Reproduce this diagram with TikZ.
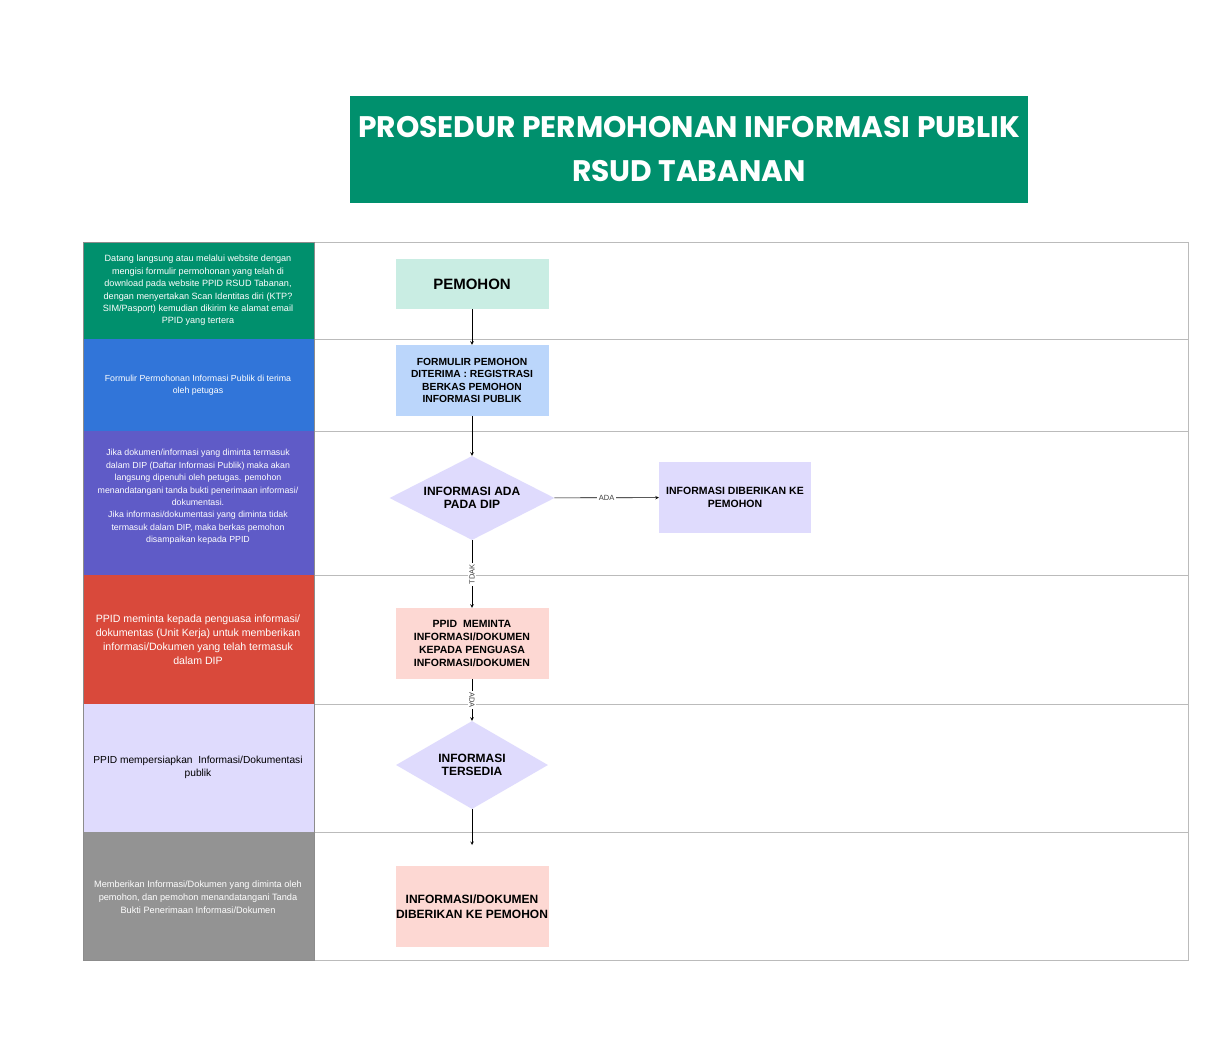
\documentclass[tikz,border=0pt]{standalone}
\usepackage{fontspec}
\setmainfont{Liberation Sans}
\newfontfamily\titlefont{Poppins}
\usetikzlibrary{shapes.geometric,arrows}
\definecolor{hijau}{HTML}{00906D}
\definecolor{biru}{HTML}{3175D9}
\definecolor{ungu}{HTML}{5F5BC7}
\definecolor{merah}{HTML}{D9493B}
\definecolor{lavender}{HTML}{DFDBFD}
\definecolor{abu}{HTML}{939393}
\definecolor{mint}{HTML}{C9EDE3}
\definecolor{birumuda}{HTML}{BBD6FB}
\definecolor{merahmuda}{HTML}{FDD8D3}
\definecolor{garis}{HTML}{BBBBBB}

\begin{document}
\begin{tikzpicture}[x=1pt,y=-1pt,
   lanetext/.style={align=center,text=white,inner sep=0pt,font=\fontsize{8.8}{12.4}\selectfont},
   stepbox/.style={rectangle,minimum width=153pt,minimum height=71pt,inner sep=0pt,align=center,font=\bfseries\fontsize{10.5}{13}\selectfont},
   decide/.style={diamond,aspect=2,inner sep=0pt,fill=lavender,align=center,font=\bfseries\fontsize{12}{13.5}\selectfont},
   arr/.style={-stealth,semithick},
   lbl/.style={fill=white,inner sep=1.5pt,text=black!75,font=\fontsize{7.5}{7.5}\selectfont}]
\useasboundingbox (0,0) rectangle (1223,1057);
\fill[white] (0,0) rectangle (1223,1057);

\node[fill=hijau,minimum width=678pt,minimum height=107pt,inner sep=0pt,align=center,text=white,
   font=\titlefont\bfseries\fontsize{29.7}{44}\selectfont] (title) at (689,149.5)
   {PROSEDUR PERMOHONAN INFORMASI PUBLIK\\RSUD TABANAN};

% lajur kiri
\fill[hijau] (83,242) rectangle (314,339);
\fill[biru] (83,339) rectangle (314,431);
\fill[ungu] (83,431) rectangle (314,575);
\fill[merah] (83,575) rectangle (314,704);
\fill[lavender] (83,704) rectangle (314,832);
\fill[abu] (83,832) rectangle (314,960);
\draw[garis] (314,242) rectangle (1188,960);
\foreach \y in {339,431,575,704,832}
   \draw[garis] (314,\y) -- (1188,\y);
\draw[black!45] (83,242) rectangle (314,960);

\node[lanetext,font=\fontsize{9.1}{12.4}\selectfont] (ket1) at (198,290.5) {Datang langsung atau melalui website dengan\\mengisi formulir permohonan yang telah di\\download pada website PPID RSUD Tabanan,\\dengan menyertakan Scan Identitas diri (KTP?\\SIM/Pasport) kemudian dikirim ke alamat email\\PPID yang tertera};
\node[lanetext] (ket2) at (198,385) {Formulir Permohonan Informasi Publik di terima\\oleh petugas};
\node[lanetext] (ket3) at (198,497) {Jika dokumen/informasi yang diminta termasuk\\dalam DIP (Daftar Informasi Publik) maka akan\\langsung dipenuhi oleh petugas. pemohon\\menandatangani tanda bukti penerimaan informasi/\\dokumentasi.\\Jika informasi/dokumentasi yang diminta tidak\\termasuk dalam DIP, maka berkas pemohon\\disampaikan kepada PPID};
\node[lanetext,font=\fontsize{10.6}{14}\selectfont] (ket4) at (198,639.5) {PPID meminta kepada penguasa informasi/\\dokumentas (Unit Kerja) untuk memberikan\\informasi/Dokumen yang telah termasuk\\dalam DIP};
\node[lanetext,text=black,font=\fontsize{10.2}{13}\selectfont] (ket5) at (198,767.5) {PPID mempersiapkan\ \ Informasi/Dokumentasi\\publik};
\node[lanetext,font=\fontsize{9.2}{13}\selectfont] (ket6) at (198,897) {Memberikan Informasi/Dokumen yang diminta oleh\\pemohon, dan pemohon menandatangani Tanda\\Bukti Penerimaan Informasi/Dokumen};

% alur
\node[stepbox,fill=mint,minimum height=50pt,font=\bfseries\fontsize{15}{16}\selectfont] (pemohon) at (472,284) {PEMOHON};
\node[stepbox,fill=birumuda,font=\bfseries\fontsize{10.3}{12.6}\selectfont] (formulir) at (472,380.5) {FORMULIR PEMOHON\\DITERIMA : REGISTRASI\\BERKAS PEMOHON\\INFORMASI PUBLIK};
\node[decide,minimum width=165pt,minimum height=84pt] (cekdip) at (472,498) {INFORMASI ADA\\PADA DIP};
\node[stepbox,fill=lavender,minimum width=152pt] (beri) at (735,497.5) {INFORMASI DIBERIKAN KE\\PEMOHON};
\node[stepbox,fill=merahmuda] (minta) at (472,643.5) {PPID\ \ MEMINTA\\INFORMASI/DOKUMEN\\KEPADA PENGUASA\\INFORMASI/DOKUMEN};
\node[decide,minimum width=152pt,minimum height=88pt] (sedia) at (472,765) {INFORMASI\\TERSEDIA};
\node[stepbox,fill=merahmuda,minimum height=81pt,font=\bfseries\fontsize{12}{15}\selectfont] (hasil) at (472,906.5) {INFORMASI/DOKUMEN\\DIBERIKAN KE PEMOHON};
\coordinate (ujung) at (472,845);

\draw[arr] (pemohon) -- (formulir);
\draw[arr] (formulir) -- (cekdip);
\draw[arr] (cekdip) -- node[lbl] {ADA} (beri);
\draw[arr] (cekdip) -- node[lbl,rotate=90] {TDAK} (minta);
\draw[arr] (minta) -- node[lbl,rotate=-90] {ADA} (sedia);
\draw[arr] (sedia) -- (ujung);
\end{tikzpicture}
\end{document}
